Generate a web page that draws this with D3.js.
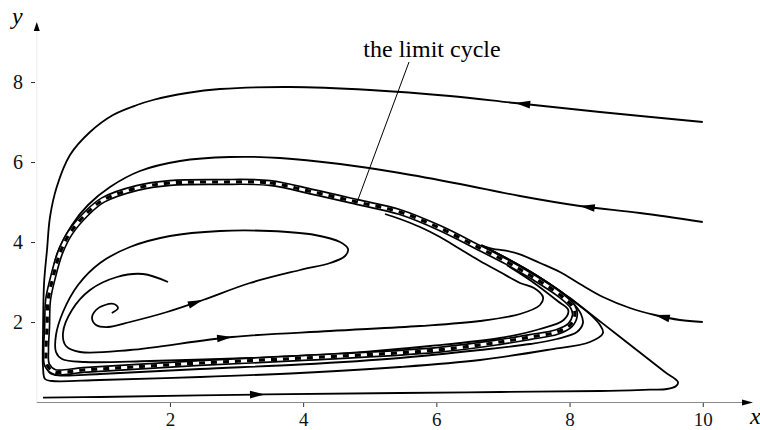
<!DOCTYPE html>
<html>
<head>
<meta charset="utf-8">
<script src="https://cdn.jsdelivr.net/npm/d3@7"></script>
<style>
  html, body { margin: 0; padding: 0; background: #fff; }
  svg { display: block; }
</style>
</head>
<body>
<svg id="chart" width="760" height="430" font-family="Liberation Serif, Times New Roman, serif"></svg>
<script>
// ---------------- data (x, y in data units) ----------------
const xTicks = [2, 4, 6, 8, 10];
const yTicks = [2, 4, 6, 8];

// the limit cycle (closed)
const limitCycle = [
  [2.75,5.5],[3.5,5.475],[4.15,5.25],[4.81,5.0],[5.45,4.75],[6.05,4.35],[6.65,3.85],
  [7.06,3.5],[7.45,3.125],[7.86,2.675],[8.05,2.375],[8.08,2.175],[8.01,1.925],[7.81,1.75],
  [7.41,1.625],[6.96,1.5],[6.01,1.3],[4.0,1.1],[2.45,0.975],[1.445,0.875],[0.695,0.8],
  [0.27,0.75],[0.155,0.925],[0.14,1.3],[0.155,1.875],[0.17,2.55],[0.245,3.125],[0.35,3.725],
  [0.5,4.225],[0.755,4.725],[0.995,5.05],[1.505,5.35],[2.0,5.475]
];

// trajectory starting at (10, 7)
const trajTop = [
  [10,7.0],[8.457,7.25],[7.181,7.475],[6.205,7.65],[5.004,7.8],[3.803,7.875],[2.751,7.825],
  [2.256,7.725],[1.745,7.55],[1.505,7.425],[1.145,7.175],[0.8,6.75],[0.499,6.175],[0.30,5.375],
  [0.199,4.625],[0.154,3.8],[0.11,2.975],[0.094,1.725],[0.094,0.875],[0.124,0.575],[0.23,0.525],
  [0.95,0.55],[2.451,0.625],[3.953,0.725],[5.454,0.875],[6.655,1.05],[7.661,1.3],[8.306,1.5],
  [8.502,1.725],[8.457,1.925],[8.337,2.15],[8.156,2.4],[7.886,2.7375],[7.481,3.1875],
  [7.082,3.5675],[6.676,3.9175]
];

// trajectory starting at (10, 4.5)
const trajMid = [
  [10,4.5],[9.057,4.725],[8.156,4.9],[7.256,5.15],[6.355,5.45],[5.454,5.725],[4.554,5.95],
  [3.652,6.1],[2.902,6.125],[2.151,6.025],[1.55,5.775],[1.1,5.375],[0.77,4.925],[0.529,4.425],
  [0.30,3.675],[0.214,2.925],[0.161,2.175],[0.131,1.425],[0.139,0.95],[0.199,0.725],[0.349,0.6625],
  [0.95,0.7],[2.451,0.825],[3.953,0.9375],[5.454,1.1],[6.655,1.3],[7.406,1.45],[7.811,1.575],
  [8.111,1.75],[8.201,1.975],[8.171,2.2],[8.066,2.45],[7.886,2.7375],[7.481,3.1875],
  [7.082,3.5675],[6.676,3.9175]
];

// trajectory starting at (10, 2)
const trajLow = [
  [10,2.0],[9.658,2.05],[9.282,2.175],[8.907,2.35],[8.502,2.625],[8.156,2.95],[7.856,3.25],
  [7.556,3.475],[7.256,3.69],[7.02,3.79],[6.85,3.83],[6.676,3.9175]
];

// trajectory starting near the origin, along the bottom
const trajBottom = [
  [0.094,0.11],[0.95,0.125],[3.427,0.19],[5.454,0.225],[6.956,0.25],[8.457,0.275],[9.207,0.31],
  [9.462,0.325],[9.6,0.4],[9.628,0.5],[9.432,0.75],[9.057,1.2375],[8.682,1.725],[8.306,2.2125],
  [8.006,2.6],[7.886,2.7375],[7.481,3.1875],[7.082,3.5675],[6.676,3.9175]
];

// trajectory spiralling out of the focus
const trajSpiral = [
  [1.127,2.225],[1.22,2.35],[1.16,2.45],[1.025,2.425],[0.89,2.3],[0.83,2.1],[0.89,1.925],
  [1.07,1.875],[1.4,2.0],[1.956,2.25],[2.496,2.55],[3.202,2.975],[3.953,3.3],[4.404,3.475],
  [4.629,3.65],[4.674,3.825],[4.554,4.0],[4.178,4.175],[3.502,4.275],[2.751,4.275],[2.0,4.15],
  [1.4,3.875],[0.95,3.475],[0.62,2.925],[0.394,2.25],[0.289,1.675],[0.289,1.25],[0.379,1.075],
  [0.724,1.0],[1.7,1.025],[3.202,1.1],[4.704,1.225],[5.905,1.4],[6.956,1.6],[7.556,1.825],
  [7.911,2.05],[7.981,2.3],[7.82,2.525],[7.43,3.02],[7.06,3.42]
];

// trajectory starting at (2, 3)
const trajInner = [
  [1.971,3.0],[1.595,3.2],[1.205,3.125],[0.80,2.8],[0.529,2.3],[0.394,1.725],[0.439,1.4],
  [0.649,1.25],[1.4,1.3],[2.932,1.625],[4.404,1.775],[5.755,1.9],[6.655,2.025],[7.256,2.2],
  [7.556,2.425],[7.601,2.625],[7.466,2.85],[7.256,2.975],[6.956,3.25],[6.655,3.525],
  [6.355,3.825],[6.055,4.125],[5.755,4.375],[5.454,4.575],[5.229,4.7]
];

// arrow positions along trajectories
const arrowMarks = [
  { traj: "top",    at: [7.181,7.475] },
  { traj: "mid",    at: [8.156,4.9] },
  { traj: "low",    at: [9.282,2.175] },
  { traj: "bottom", at: [3.427,0.19] },
  { traj: "spiral", at: [2.496,2.55] },
  { traj: "inner",  at: [2.932,1.625] }
];

const annotationText = "the limit cycle";
const annotationPoint = [4.81, 5.0];

// ---------------- drawing ----------------
const FONT = "Liberation Serif, Times New Roman, serif";
const svg = d3.select("#chart");
const x = d3.scaleLinear().domain([0, 10]).range([36.75, 702.75]);
const y = d3.scaleLinear().domain([0, 8]).range([402, 82]);

// axes
const xAxis = d3.axisBottom(x).tickValues(xTicks).tickSize(5).tickSizeOuter(0).tickPadding(6);
const gx = svg.append("g").attr("transform", "translate(0,402)").call(xAxis)
  .attr("font-family", FONT).attr("font-size", 19);
gx.select(".domain").remove();
gx.selectAll(".tick line").attr("stroke", "#333").attr("stroke-width", 1);
gx.selectAll(".tick text").attr("fill", "#111").attr("font-family", FONT).attr("font-size", 19);

const yAxis = d3.axisLeft(y).tickValues(yTicks).tickSize(4).tickSizeOuter(0).tickPadding(8);
const gy = svg.append("g").attr("transform", "translate(35,0)").call(yAxis)
  .attr("font-family", FONT).attr("font-size", 20);
gy.select(".domain").remove();
gy.selectAll(".tick line").attr("stroke", "#333").attr("stroke-width", 1);
gy.selectAll(".tick text").attr("fill", "#111").attr("font-family", FONT).attr("font-size", 20);

// axis lines with arrowheads
svg.append("line").attr("x1", x(0)).attr("x2", 748).attr("y1", y(0) + 0.5).attr("y2", y(0) + 0.5)
  .attr("stroke", "#8a8a8a").attr("stroke-width", 1);
svg.append("path").attr("d", "M753,402.5 L742,399.5 L742,405.5 Z").attr("fill", "#000");
svg.append("line").attr("x1", x(0)).attr("x2", x(0)).attr("y1", y(0)).attr("y2", 30)
  .attr("stroke", "#ececec").attr("stroke-width", 1);
svg.append("path").attr("d", `M${x(0)},22 L${x(0) - 3},31 L${x(0) + 3},31 Z`).attr("fill", "#000");

svg.append("text").attr("x", 750).attr("y", 424).attr("font-size", 24).attr("font-family", FONT)
  .attr("font-style", "italic").text("x");
svg.append("text").attr("x", 12).attr("y", 24).attr("font-size", 24).attr("font-family", FONT)
  .attr("font-style", "italic").text("y");

// trajectories
const line = d3.line().x(d => x(d[0])).y(d => y(d[1])).curve(d3.curveCatmullRom.alpha(0.5));
const closedLine = d3.line().x(d => x(d[0])).y(d => y(d[1])).curve(d3.curveCatmullRomClosed.alpha(0.5));

const trajectories = { top: trajTop, mid: trajMid, low: trajLow, bottom: trajBottom, spiral: trajSpiral, inner: trajInner };
const paths = {};
Object.entries(trajectories).forEach(([k, pts]) => {
  paths[k] = svg.append("path").attr("d", line(pts)).attr("fill", "none")
    .attr("stroke", "#000").attr("stroke-width", 1.8).attr("stroke-linejoin", "round");
});

// limit cycle: black band with white core and black dashes
svg.append("path").attr("d", closedLine(limitCycle)).attr("fill", "none").attr("stroke", "#000").attr("stroke-width", 6.5);
svg.append("path").attr("d", closedLine(limitCycle)).attr("fill", "none").attr("stroke", "#fff").attr("stroke-width", 3.2);
svg.append("path").attr("d", closedLine(limitCycle)).attr("fill", "none").attr("stroke", "#000")
  .attr("stroke-width", 3.2).attr("stroke-dasharray", "6,6");

// arrows
arrowMarks.forEach(a => {
  const node = paths[a.traj].node();
  const L = node.getTotalLength();
  const tx = x(a.at[0]), ty = y(a.at[1]);
  let best = 0, bd = Infinity;
  for (let s = 0; s <= L; s += 0.5) {
    const p = node.getPointAtLength(s);
    const dd = (p.x - tx) ** 2 + (p.y - ty) ** 2;
    if (dd < bd) { bd = dd; best = s; }
  }
  const p0 = node.getPointAtLength(Math.max(0, best - 3));
  const p1 = node.getPointAtLength(Math.min(L, best + 3));
  const ang = Math.atan2(p1.y - p0.y, p1.x - p0.x) * 180 / Math.PI;
  const tip = node.getPointAtLength(best);
  svg.append("path").attr("d", "M0,0 L-15,-3.8 L-15,3.8 Z").attr("fill", "#000")
    .attr("transform", `translate(${tip.x},${tip.y}) rotate(${ang})`);
});

// annotation
svg.append("line").attr("x1", 409).attr("y1", 62)
  .attr("x2", x(annotationPoint[0])).attr("y2", y(annotationPoint[1]))
  .attr("stroke", "#000").attr("stroke-width", 1);
svg.append("text").attr("x", 432).attr("y", 57).attr("text-anchor", "middle")
  .attr("font-family", FONT).attr("font-size", 24).text(annotationText);
</script>
</body>
</html>
